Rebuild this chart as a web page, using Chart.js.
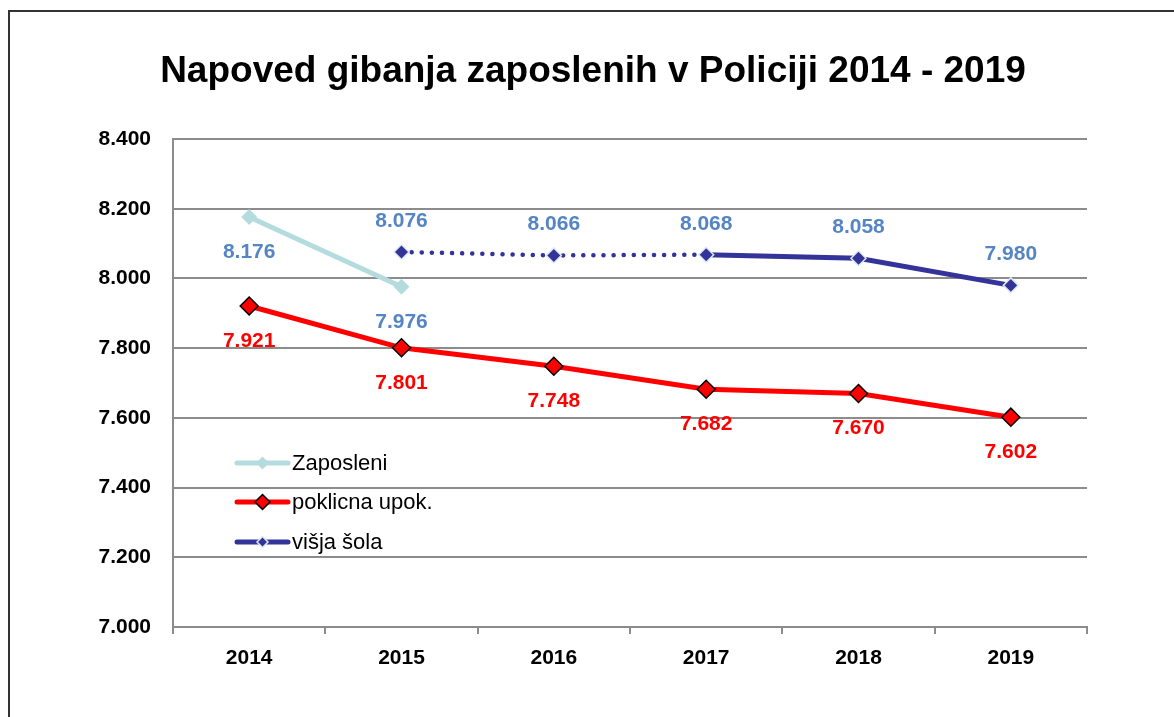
<!DOCTYPE html>
<html lang="sl">
<head>
<meta charset="UTF-8">
<title>Napoved gibanja zaposlenih v Policiji 2014 - 2019</title>
<script src="https://cdn.jsdelivr.net/npm/chart.js@4.4.3/dist/chart.umd.min.js"></script>
<style>
  html, body { margin: 0; padding: 0; background: #fff; overflow: hidden; }
  #frame { position: absolute; left: 8px; top: 10px; width: 1300px; height: 800px;
           border-left: 2px solid #333; border-top: 2px solid #333; }
  #wrap { position: absolute; left: 0; top: 0; width: 1174px; height: 717px; }
</style>
</head>
<body>
<div id="frame"></div>
<div id="wrap"><canvas id="chart"></canvas></div>
<script>
const years = ['2014', '2015', '2016', '2017', '2018', '2019'];
const zaposleni = [8176, 7976, null, null, null, null];
const poklicna = [7921, 7801, 7748, 7682, 7670, 7602];
const visjaSola = [null, 8076, 8066, 8068, 8058, 7980];
const yTicks = [7000, 7200, 7400, 7600, 7800, 8000, 8200, 8400];
const titleText = 'Napoved gibanja zaposlenih v Policiji 2014 - 2019';

const FONT = 'Arial, "Liberation Sans", sans-serif';
const grey = '#8c8c8c';

function fmt(n) {
  return Math.floor(n / 1000) + '.' + String(Math.round(n % 1000)).padStart(3, '0');
}

// data labels: offset below (+) or above (-) each point
const labelOpts = [
  { color: '#5585C5', dy: 35 },
  { color: '#FF0000', dy: 35 },
  { color: '#5585C5', dy: -31 }
];

const labelsPlugin = {
  id: 'pointLabels',
  afterDatasetsDraw(chart) {
    const ctx = chart.ctx;
    ctx.save();
    ctx.font = 'bold 21px ' + FONT;
    ctx.textAlign = 'center';
    ctx.textBaseline = 'middle';
    chart.data.datasets.forEach((ds, i) => {
      const meta = chart.getDatasetMeta(i);
      ctx.fillStyle = labelOpts[i].color;
      meta.data.forEach((pt, j) => {
        const v = ds.data[j];
        if (v == null) return;
        ctx.fillText(fmt(v), pt.x, pt.y + labelOpts[i].dy);
      });
    });
    ctx.restore();
  }
};

// title centred over the whole frame
const titlePlugin = {
  id: 'frameTitle',
  afterDraw(chart) {
    const ctx = chart.ctx;
    ctx.save();
    ctx.font = 'bold 37px ' + FONT;
    ctx.fillStyle = '#000';
    ctx.textAlign = 'center';
    ctx.textBaseline = 'middle';
    ctx.fillText(titleText, 593, 72);
    ctx.restore();
  }
};

// legend drawn inside the plot area
const legendSizes = [6.5, 7.5, 5.5];
const legendPlugin = {
  id: 'innerLegend',
  afterDraw(chart) {
    const ctx = chart.ctx;
    const x0 = 237, x1 = 288, tx = 292;
    const rows = [463, 502, 542];
    ctx.save();
    chart.data.datasets.forEach((ds, i) => {
      const y = rows[i];
      ctx.strokeStyle = ds.borderColor;
      ctx.lineWidth = ds.borderWidth;
      ctx.lineCap = 'round';
      ctx.beginPath();
      ctx.moveTo(x0, y);
      ctx.lineTo(x1, y);
      ctx.stroke();
      ctx.fillStyle = ds.pointBackgroundColor;
      ctx.strokeStyle = ds.pointBorderColor;
      ctx.lineWidth = ds.pointBorderWidth;
      Chart.helpers.drawPoint(ctx, {
        pointStyle: 'rectRot',
        radius: legendSizes[i],
        borderWidth: ds.pointBorderWidth
      }, (x0 + x1) / 2, y);
      ctx.fillStyle = '#000';
      ctx.font = '22px ' + FONT;
      ctx.textAlign = 'left';
      ctx.textBaseline = 'middle';
      ctx.fillText(ds.label, tx, y + 1);
    });
    ctx.restore();
  }
};

const dotted = ctx => ctx.p0DataIndex <= 2;

new Chart(document.getElementById('chart'), {
  type: 'line',
  data: {
    labels: years,
    datasets: [
      {
        label: 'Zaposleni',
        data: zaposleni,
        borderColor: '#B4DCDF',
        borderWidth: 5,
        pointStyle: 'rectRot',
        pointRadius: 8,
        pointBackgroundColor: '#B4DCDF',
        pointBorderColor: '#B4DCDF',
        pointBorderWidth: 0,
        order: 1
      },
      {
        label: 'poklicna upok.',
        data: poklicna,
        borderColor: '#FF0000',
        borderWidth: 5,
        pointStyle: 'rectRot',
        pointRadius: 9,
        pointBackgroundColor: '#FF0000',
        pointBorderColor: '#000',
        pointBorderWidth: 1.5,
        order: 2
      },
      {
        label: 'višja šola',
        data: visjaSola,
        borderColor: '#333399',
        borderWidth: 5,
        pointStyle: 'rectRot',
        pointRadius: 7.5,
        pointBackgroundColor: '#333399',
        pointBorderColor: '#DDEBF5',
        pointBorderWidth: 1.5,
        segment: {
          borderDash: c => dotted(c) ? [0.1, 10] : undefined,
          borderWidth: c => dotted(c) ? 4.5 : undefined,
          borderCapStyle: c => dotted(c) ? 'round' : undefined
        },
        order: 3
      }
    ]
  },
  options: {
    responsive: true,
    maintainAspectRatio: false,
    animation: false,
    layout: { padding: { left: 0, right: 87, top: 139, bottom: 0 } },
    plugins: {
      legend: { display: false },
      tooltip: { enabled: false },
      title: { display: false }
    },
    scales: {
      x: {
        offset: true,
        grid: { offset: true, drawOnChartArea: false, color: grey, lineWidth: 2, tickLength: 7 },
        border: { color: grey, width: 2 },
        ticks: { color: '#000', font: { family: FONT, size: 21, weight: 'bold' }, padding: 12 },
        afterFit(s) { s.height = 90; }
      },
      y: {
        min: 7000,
        max: 8400,
        afterBuildTicks(s) { s.ticks = yTicks.map(v => ({ value: v })); },
        grid: { color: grey, lineWidth: 2, drawTicks: false },
        border: { color: grey, width: 2 },
        ticks: {
          color: '#000',
          font: { family: FONT, size: 21, weight: 'bold' },
          padding: 22,
          callback: v => fmt(v)
        },
        afterFit(s) { s.width = 173; }
      }
    }
  },
  plugins: [labelsPlugin, legendPlugin, titlePlugin]
});
</script>
</body>
</html>
